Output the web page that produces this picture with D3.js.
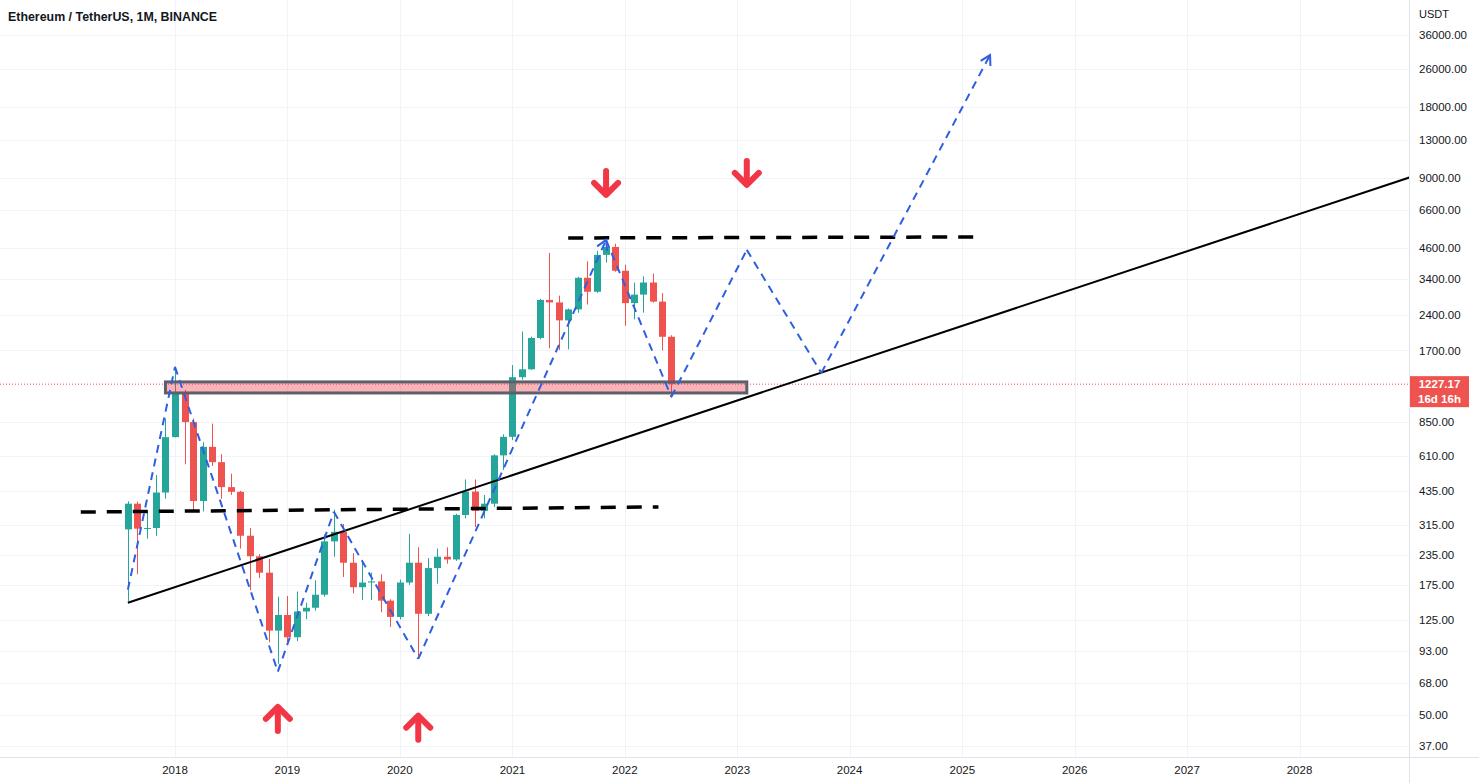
<!DOCTYPE html>
<html>
<head>
<meta charset="utf-8">
<script src="https://cdn.jsdelivr.net/npm/d3@7"></script>
<style>
  html, body { margin: 0; padding: 0; background: #fff; }
  svg { display: block; }
  text { font-family: "Liberation Sans", Arial, sans-serif; }
</style>
</head>
<body>
<script>
// ---------------- DATA ----------------
const months = ["2017-08","2017-09","2017-10","2017-11","2017-12",
  "2018-01","2018-02","2018-03","2018-04","2018-05","2018-06","2018-07","2018-08","2018-09","2018-10","2018-11","2018-12",
  "2019-01","2019-02","2019-03","2019-04","2019-05","2019-06","2019-07","2019-08","2019-09","2019-10","2019-11","2019-12",
  "2020-01","2020-02","2020-03","2020-04","2020-05","2020-06","2020-07","2020-08","2020-09","2020-10","2020-11","2020-12",
  "2021-01","2021-02","2021-03","2021-04","2021-05","2021-06","2021-07","2021-08","2021-09","2021-10","2021-11","2021-12",
  "2022-01","2022-02","2022-03","2022-04","2022-05","2022-06"];
const opens  = [301,386,303,305,430, 735,1118,850,396,669,577,453,433,283,232,198,113, 131.5,106,136,141,160,268,294,218,172,180,182,151, 129,180,218,133,207,231,225,346,434,360,386,616, 737,1313,1417,1919,2773,2707,2275,2530,3434,3001,4288,4631, 3676,2688,2919,3282,2728,1941];
const highs  = [395,394,360,509,880, 1424,1161,880,700,838,623,516,437,305,237,226,157, 158,165,148,184,287,364,317,239,224,198,195,153, 185,288,253,228,250,253,350,488,488,420,623,755, 1476,2042,1943,2800,4372,2891,2551,3466,4028,4460,4868,4778, 3900,3282,3480,3580,2962,1970];
const lows   = [150,195,275,283,405, 733,565,360,358,556,405,420,250,167,188,101,82, 101,102,126,137,157,231,190,162,152,152,135,117, 126,176,86,130,178,216,222,335,308,335,374,535, 714,1283,1410,1893,1737,1707,1719,2450,2652,2970,3980,3643, 2159,2300,2450,2700,1700,1075];
const closes = [386,303,305,430,735, 1118,850,396,669,577,453,433,283,232,198,113,131.5, 106,136,141,160,268,294,218,172,180,182,151,129, 180,218,133,207,231,225,346,434,360,386,616,737, 1313,1417,1919,2773,2707,2275,2530,3434,3001,4288,4631,3676, 2688,2919,3282,2728,1941,1227.17];

const priceTicks = [36000,26000,18000,13000,9000,6600,4600,3400,2400,1700,850,610,435,315,235,175,125,93,68,50,37];
const yearTicks = [2018,2019,2020,2021,2022,2023,2024,2025,2026,2027,2028];
const lastPrice = 1227.17;
const lastLabel = ["1227.17", "16d 16h"];
const title = "Ethereum / TetherUS, 1M, BINANCE";
const currency = "USDT";

// drawings (date, price)
const trendLine   = [["2017-08-01", 148], ["2029-01-01", 9150]];
const lowerLevel  = [["2017-03-01", 356], ["2022-04-20", 374]];
const upperLevel  = [["2021-07-01", 5050], ["2025-03-10", 5100]];
const zoneBox     = { from: "2017-12-01", to: "2023-02-01", top: 1254, bottom: 1127 };
const pathPoints  = [["2017-08-01",168],["2018-01-01",1450],["2018-12-01",76],["2019-06-01",357],["2020-03-01",86],
                     ["2021-11-01",4955],["2022-06-01",1085],["2023-02-01",4500],["2023-10-01",1368],["2025-04-01",29650]];
const arrowHeadsAt = [5, 9]; // indexes in pathPoints that end with an arrow head
const downArrows  = [["2021-11-01", 7660], ["2023-02-01", 8433]];
const upArrows    = [["2018-12-01", 54], ["2020-03-01", 49.6]];

// ---------------- LAYOUT ----------------
const W = 1479, H = 783;
const plotRight = 1409, plotBottom = 757;
const parse = d3.utcParse("%Y-%m-%d");
const parseM = d3.utcParse("%Y-%m");

const x = d3.scaleUtc().domain([parse("2018-01-01"), parse("2028-01-01")]).range([175, 1299.5]);
const y = d3.scaleLog().domain([37, 36000]).range([746, 35]);

const svg = d3.select("body").append("svg").attr("width", W).attr("height", H);
svg.append("rect").attr("width", W).attr("height", H).attr("fill", "#fff");

svg.append("defs").append("clipPath").attr("id", "plot")
  .append("rect").attr("x", 0).attr("y", 0).attr("width", plotRight).attr("height", plotBottom);

// grid
const grid = svg.append("g").attr("clip-path", "url(#plot)");
grid.selectAll(".hg").data(priceTicks).join("line")
  .attr("x1", 0).attr("x2", plotRight)
  .attr("y1", d => Math.round(y(d)) + 0.5).attr("y2", d => Math.round(y(d)) + 0.5)
  .attr("stroke", "#f0f3fa").attr("stroke-width", 1);
grid.selectAll(".vg").data(yearTicks).join("line")
  .attr("y1", 0).attr("y2", plotBottom)
  .attr("x1", d => Math.round(x(parse(d + "-01-01"))) + 0.5)
  .attr("x2", d => Math.round(x(parse(d + "-01-01"))) + 0.5)
  .attr("stroke", "#f0f3fa").attr("stroke-width", 1);

const plot = svg.append("g").attr("clip-path", "url(#plot)");

// last price dotted line
plot.append("line")
  .attr("x1", 0).attr("x2", plotRight)
  .attr("y1", y(lastPrice)).attr("y2", y(lastPrice))
  .attr("stroke", "#ef5350").attr("stroke-width", 1).attr("stroke-dasharray", "1,2");

// candles
const candles = months.map((m, i) => ({ d: parseM(m), o: opens[i], h: highs[i], l: lows[i], c: closes[i] }));
const green = "#26a69a", red = "#ef5350";
const bw = 7;
const cg = plot.append("g");
cg.selectAll("line").data(candles).join("line")
  .attr("x1", d => Math.round(x(d.d)) + 0.5).attr("x2", d => Math.round(x(d.d)) + 0.5)
  .attr("y1", d => y(d.h)).attr("y2", d => y(d.l))
  .attr("stroke", d => d.c >= d.o ? green : red).attr("stroke-width", 1);
cg.selectAll("rect").data(candles).join("rect")
  .attr("x", d => Math.round(x(d.d)) + 0.5 - bw / 2)
  .attr("width", bw)
  .attr("y", d => y(Math.max(d.o, d.c)))
  .attr("height", d => Math.max(1, Math.abs(y(d.o) - y(d.c))))
  .attr("fill", d => d.c >= d.o ? green : red);

// zone box
plot.append("rect")
  .attr("x", x(parse(zoneBox.from)))
  .attr("y", y(zoneBox.top))
  .attr("width", x(parse(zoneBox.to)) - x(parse(zoneBox.from)))
  .attr("height", y(zoneBox.bottom) - y(zoneBox.top))
  .attr("fill", "rgba(242,54,69,0.38)")
  .attr("stroke", "#5d606b").attr("stroke-width", 3);

// trend line
const pt = p => [x(parse(p[0])), y(p[1])];
plot.append("path")
  .attr("d", d3.line()(trendLine.map(pt)))
  .attr("fill", "none").attr("stroke", "#000").attr("stroke-width", 2);

// horizontal dashed levels
[lowerLevel, upperLevel].forEach(lv => {
  plot.append("path")
    .attr("d", d3.line()(lv.map(pt)))
    .attr("fill", "none").attr("stroke", "#000").attr("stroke-width", 3.5)
    .attr("stroke-dasharray", "15,11");
});

// blue dashed zigzag
const blue = "#2f5fe0";
const pp = pathPoints.map(pt);
for (let i = 0; i < pp.length - 1; i++) {
  plot.append("path")
    .attr("d", d3.line()([pp[i], pp[i + 1]]))
    .attr("fill", "none").attr("stroke", blue).attr("stroke-width", 2)
    .attr("stroke-dasharray", "8,6");
}
arrowHeadsAt.forEach(i => {
  const [tx, ty] = pp[i], [fx, fy] = pp[i - 1];
  const ang = Math.atan2(ty - fy, tx - fx);
  const L = 11, a = Math.PI / 6;
  const p1 = [tx - L * Math.cos(ang - a), ty - L * Math.sin(ang - a)];
  const p2 = [tx - L * Math.cos(ang + a), ty - L * Math.sin(ang + a)];
  plot.append("path")
    .attr("d", d3.line()([p1, [tx, ty], p2]))
    .attr("fill", "none").attr("stroke", blue).attr("stroke-width", 2);
});

// red arrows
const arrowColor = "#f23645";
function drawArrow(p, dir) { // dir = 1 down (tip at bottom), -1 up
  const [tx, ty] = pt(p);
  const len = 24, arm = 12;
  const g = plot.append("g").attr("fill", "none").attr("stroke", arrowColor)
    .attr("stroke-width", 6).attr("stroke-linecap", "round").attr("stroke-linejoin", "round");
  g.append("path").attr("d", d3.line()([[tx, ty - dir * len], [tx, ty - dir * 2]]));
  g.append("path").attr("d", d3.line()([[tx - arm, ty - dir * arm], [tx, ty], [tx + arm, ty - dir * arm]]));
}
downArrows.forEach(p => drawArrow(p, 1));
upArrows.forEach(p => drawArrow(p, -1));

// axes borders
svg.append("line").attr("x1", plotRight + 0.5).attr("x2", plotRight + 0.5).attr("y1", 0).attr("y2", H)
  .attr("stroke", "#e0e3eb");
svg.append("line").attr("x1", 0).attr("x2", W).attr("y1", plotBottom + 0.5).attr("y2", plotBottom + 0.5)
  .attr("stroke", "#e0e3eb");

// right axis labels
const axisColor = "#131722";
svg.append("g").selectAll("text").data(priceTicks).join("text")
  .attr("x", 1419).attr("y", d => y(d)).attr("dy", "0.35em")
  .attr("font-size", 11.5).attr("fill", axisColor)
  .text(d => d3.format(".2f")(d));
svg.append("text").attr("x", 1419).attr("y", 18).attr("font-size", 11).attr("fill", axisColor).text(currency);

// bottom axis labels
svg.append("g").selectAll("text").data(yearTicks).join("text")
  .attr("x", d => x(parse(d + "-01-01"))).attr("y", 770).attr("dy", "0.35em")
  .attr("text-anchor", "middle").attr("font-size", 11.5).attr("fill", axisColor)
  .text(d => d);

// last price label
const ly = y(lastPrice);
svg.append("rect").attr("x", plotRight + 1).attr("y", ly - 8).attr("width", 59).attr("height", 31)
  .attr("fill", "#ef5350");
svg.append("text").attr("x", plotRight + 30.5).attr("y", ly).attr("dy", "0.35em")
  .attr("text-anchor", "middle").attr("font-size", 11.5).attr("font-weight", "bold").attr("fill", "#fff")
  .text(lastLabel[0]);
svg.append("text").attr("x", plotRight + 30.5).attr("y", ly + 15).attr("dy", "0.35em")
  .attr("text-anchor", "middle").attr("font-size", 11.5).attr("font-weight", "bold").attr("fill", "#fff")
  .text(lastLabel[1]);

// title
svg.append("text").attr("x", 8).attr("y", 21).attr("font-size", 12.4).attr("font-weight", "bold")
  .attr("fill", axisColor).text(title);
</script>
</body>
</html>
